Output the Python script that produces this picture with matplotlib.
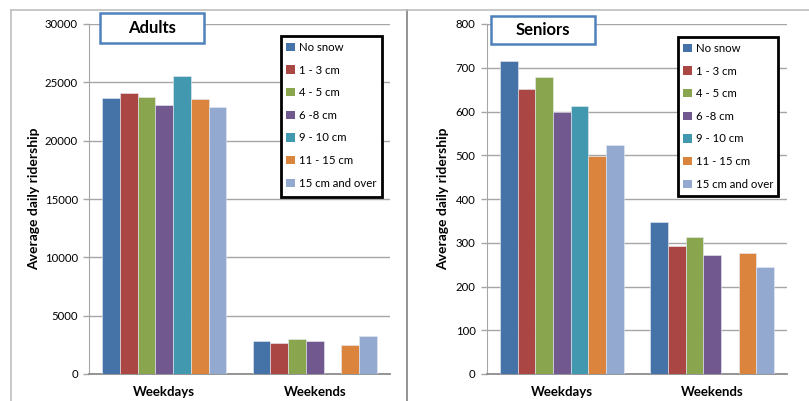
import numpy as np
import matplotlib
matplotlib.use("Agg")
import matplotlib.pyplot as plt
from matplotlib.patches import Rectangle, Patch
from matplotlib.lines import Line2D

plt.rcParams['font.family'] = ['Lato', 'DejaVu Sans']

groups = ['Weekdays', 'Weekends']
snow_classes = ['No snow', '1 - 3 cm', '4 - 5 cm', '6 -8 cm', '9 - 10 cm', '11 - 15 cm', '15 cm and over']
colours = ['#4572A7', '#AA4643', '#89A54E', '#71588F', '#4198AF', '#DB843D', '#93A9CF']

# average daily ridership, rows = snow class, cols = weekdays / weekends
adults = [
    [23700, 2860],
    [24100, 2690],
    [23750, 3030],
    [23060, 2830],
    [25550, 0],
    [23600, 2510],
    [22890, 3290],
]
seniors = [
    [715, 347],
    [651, 292],
    [679, 314],
    [600, 271],
    [613, 0],
    [498, 276],
    [523, 245],
]

W, H = 809, 401
fig = plt.figure(figsize=(W / 100, H / 100), dpi=100)


def fx(px):
    return px / W


def fy(py):
    return 1 - py / H


# outer frames
fig.add_artist(Line2D([fx(11), fx(11)], [fy(10), 0], color='#BFBFBF', lw=1.2, transform=fig.transFigure))
fig.add_artist(Line2D([fx(11), fx(407)], [fy(10), fy(10)], color='#BFBFBF', lw=1.2, transform=fig.transFigure))
fig.add_artist(Line2D([fx(407), fx(407)], [fy(10), 0], color='#808080', lw=1.2, transform=fig.transFigure))
fig.add_artist(Line2D([fx(407), 1], [fy(10), fy(10)], color='#BFBFBF', lw=1.2, transform=fig.transFigure))


def draw_panel(left_px, right_px, data, ymax, step, title, title_box, legend_box, ylab_x):
    ax = fig.add_axes([fx(left_px), fy(374), fx(right_px - left_px), (374 - 24) / H])
    n = len(snow_classes)
    bw = 0.1177
    x = np.arange(len(groups))
    for i, (name, col) in enumerate(zip(snow_classes, colours)):
        ax.bar(x + (i - (n - 1) / 2) * bw, data[i], width=bw, color=col,
               edgecolor='#E8ECF4', linewidth=0.4, label=name, zorder=3)
    ax.set_xlim(-0.5, 1.5)
    ax.set_ylim(0, ymax)
    ax.set_yticks(np.arange(0, ymax + 1, step))
    ax.set_xticks(x)
    ax.set_xticklabels(groups, fontsize=9.5, fontweight='bold')
    ax.tick_params(axis='x', length=0, pad=9)
    ax.tick_params(axis='y', length=4, width=1, color='#A6A6A6', labelsize=8.2, pad=4)
    ax.grid(axis='y', color='#A6A6A6', lw=1, zorder=0)
    for s in ['top', 'right']:
        ax.spines[s].set_visible(False)
    ax.spines['left'].set_color('#A6A6A6')
    ax.spines['bottom'].set_color('#8C8C8C')
    ax.spines['bottom'].set_linewidth(1.3)

    fig.text(fx(ylab_x), fy(199), 'Average daily ridership', rotation=90,
             ha='center', va='center', fontsize=10, fontweight='bold')

    # title box
    x0, y0, x1, y1 = title_box
    fig.add_artist(Rectangle((fx(x0), fy(y1)), fx(x1 - x0), (y1 - y0) / H,
                             transform=fig.transFigure, facecolor='white',
                             edgecolor='#4F81BD', lw=1.8, zorder=5))
    fig.text(fx((x0 + x1) / 2), fy((y0 + y1) / 2), title, ha='center', va='center',
             fontsize=12, fontweight='bold', zorder=6)

    # legend box
    lx0, ly0, lx1, ly1 = legend_box
    fig.add_artist(Rectangle((fx(lx0), fy(ly1)), fx(lx1 - lx0), (ly1 - ly0) / H,
                             transform=fig.transFigure, facecolor='white',
                             edgecolor='black', lw=2, zorder=5))
    handles = [Patch(facecolor=c, edgecolor='none') for c in colours]
    leg = fig.legend(handles, snow_classes, loc='upper left',
                     bbox_to_anchor=(fx(lx0 + 1), fy(ly0 + 2)),
                     frameon=False, fontsize=8.2, handlelength=0.75, handleheight=0.75,
                     handletextpad=0.35, labelspacing=1.02, borderpad=0.35,
                     borderaxespad=0)
    leg.set_zorder(6)
    return ax


draw_panel(89, 390, adults, 30000, 5000, 'Adults', (100, 13, 204, 43),
           (281, 36, 382, 197), 34)
draw_panel(486.7, 787.3, seniors, 800, 100, 'Seniors', (491, 16, 595, 44),
           (678, 37, 778, 196), 443)

fig.savefig('out.png', dpi=100)
